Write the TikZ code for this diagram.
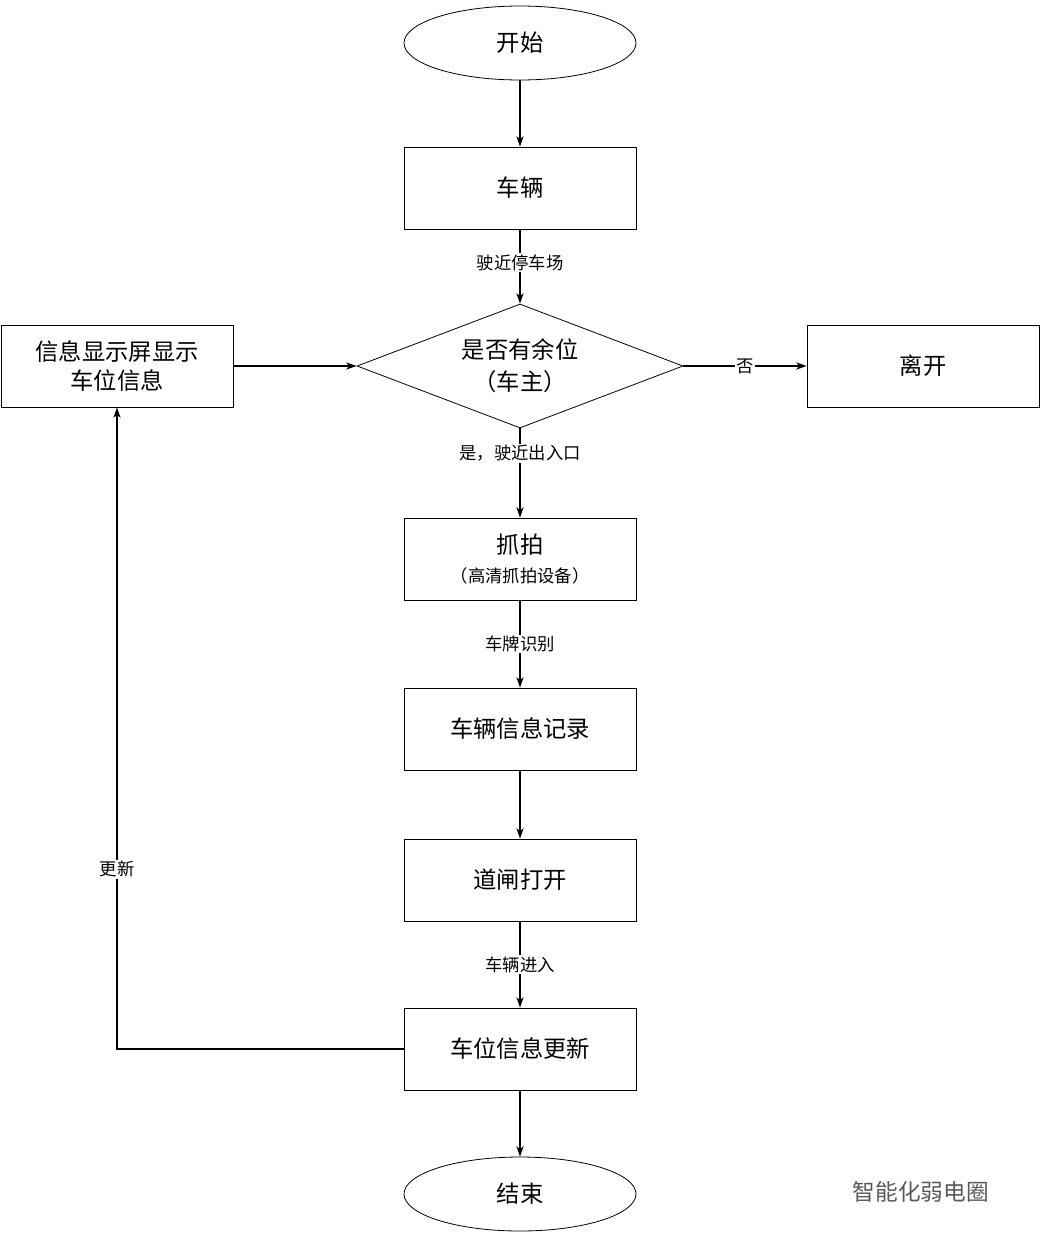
\documentclass[tikz,border=0pt]{standalone}
\usepackage{fontspec}
\setmainfont{Noto Sans CJK SC}
\usetikzlibrary{shapes.geometric,arrows.meta}
\begin{document}
\begin{tikzpicture}[x=0.75pt,y=-0.75pt,
  box/.style={draw,line width=0.6pt,minimum width=232*0.75pt,minimum height=82*0.75pt,font=\fontsize{17.5}{22}\selectfont,align=center,inner sep=0pt},
  term/.style={draw,line width=0.6pt,ellipse,minimum width=232*0.75pt,minimum height=74*0.75pt,font=\fontsize{17.5}{22}\selectfont},
  lab/.style={fill=white,font=\fontsize{13}{15}\selectfont,inner sep=1pt},
  arr/.style={-{Stealth[length=8pt,width=5.5pt]},line width=0.9pt}]
\useasboundingbox (0,0) rectangle (1040,1238);
\node[term] (start) at (520,43) {开始};
\node[box] (car) at (520,188) {车辆};
\node[draw,line width=0.6pt,diamond,aspect=2.63,minimum width=326*0.75pt,minimum height=124*0.75pt,inner sep=0pt,font=\fontsize{17.5}{24}\selectfont,align=center] (dec) at (520,366) {是否有余位\\（车主）};
\node[box] (disp) at (117,366) {信息显示屏显示\\车位信息};
\node[box] (leave) at (923,366) {离开};
\node[box,align=center] (snap) at (520,559) {抓拍\\{\fontsize{13}{18}\selectfont（高清抓拍设备）}};
\node[box] (rec) at (520,729) {车辆信息记录};
\node[box] (gate) at (520,880) {道闸打开};
\node[box] (upd) at (520,1049) {车位信息更新};
\node[term] (end) at (520,1194) {结束};
\coordinate (corner) at (117,1049);
\draw[arr] (start) -- (car);
\draw[arr] (car) -- node[lab,pos=0.45]{驶近停车场} (dec);
\draw[arr] (dec) -- node[lab,pos=0.5]{否} (leave);
\draw[arr] (dec) -- node[lab,pos=0.28]{是，驶近出入口} (snap);
\draw[arr] (snap) -- node[lab,pos=0.5]{车牌识别} (rec);
\draw[arr] (rec) -- (gate);
\draw[arr] (gate) -- node[lab,pos=0.5]{车辆进入} (upd);
\draw[arr] (upd) -- (end);
\draw[arr] (disp) -- (dec);
\draw[arr] (upd) -- (corner) -- node[lab,pos=0.28]{更新} (disp);
\node[text=gray!70!black,font=\fontsize{17}{20}\selectfont,anchor=west] (wm) at (848,1192) {智能化弱电圈};
\end{tikzpicture}
\end{document}
